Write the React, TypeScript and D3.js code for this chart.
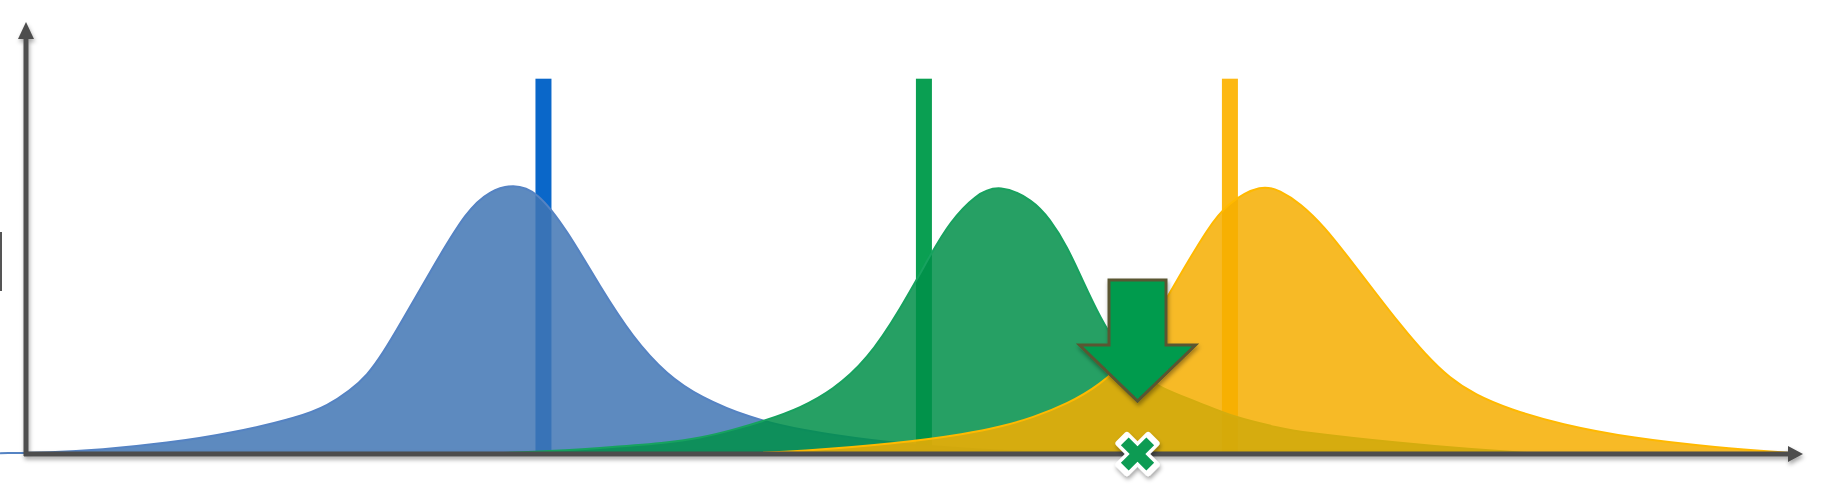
import * as d3 from 'd3';
import { useEffect, useRef } from 'react';

const WIDTH = 1827;
const HEIGHT = 503;

// curve samples: [x, relative height]
const blueCurve: [number, number][] = [
    [-1.46, 0.003], [1.35, 0.005], [4.16, 0.015], [7.93, 0.04], [11.65, 0.078],
    [15.42, 0.137], [17.0, 0.18], [18.23, 0.235], [19.19, 0.29], [20.1, 0.375],
    [21.05, 0.48], [22.9, 0.693], [24.82, 0.904], [26.11, 0.975], [27.41, 1.0],
    [28.76, 0.975], [30.44, 0.83], [32.3, 0.62], [34.16, 0.43], [36.07, 0.293],
    [37.93, 0.211], [40.74, 0.133], [43.56, 0.089], [47.5, 0.05], [52.0, 0.022],
    [57.06, 0.004],
];

const greenCurve: [number, number][] = [
    [25.15, 0.0], [28.53, 0.007], [32.3, 0.022], [36.07, 0.041], [37.93, 0.059],
    [39.79, 0.089], [41.7, 0.126], [43.56, 0.17], [45.41, 0.237], [47.33, 0.348],
    [49.18, 0.533], [51.04, 0.755], [51.97, 0.856], [53.4, 0.96], [54.81, 1.0],
    [56.67, 0.94], [57.62, 0.87], [58.58, 0.77], [59.48, 0.64], [60.44, 0.505],
    [61.56, 0.385], [62.69, 0.3], [63.81, 0.244], [66.07, 0.189], [67.92, 0.137],
    [70.57, 0.096], [71.69, 0.081], [77.32, 0.04], [81.26, 0.018], [84.64, 0.003],
];

const yellowCurve: [number, number][] = [
    [39.9, 0.0], [43.56, 0.01], [49.18, 0.04], [52.95, 0.075], [54.81, 0.1],
    [56.67, 0.135], [58.58, 0.185], [60.44, 0.255], [62.13, 0.36], [63.25, 0.47],
    [64.21, 0.58], [65.34, 0.707], [66.46, 0.83], [67.59, 0.93], [69.56, 1.0],
    [70.57, 0.975], [71.69, 0.93], [73.1, 0.84], [74.51, 0.72], [75.91, 0.6],
    [77.32, 0.48], [78.73, 0.37], [80.13, 0.28], [81.54, 0.22], [83.51, 0.165],
    [86.33, 0.11], [90.43, 0.058], [95.16, 0.024], [99.27, 0.004],
];

const series = [
    { name: 'blue', points: blueCurve, marker: 29.12, fill: 'rgb(65,117,180)', edge: '#5583c3', line: '#0a67c9' },
    { name: 'green', points: greenCurve, marker: 50.53, fill: 'rgb(0,143,73)', edge: '#17a25f', line: '#0a9f52' },
    { name: 'yellow', points: yellowCurve, marker: 67.75, fill: 'rgb(246,174,0)', edge: '#ffb900', line: '#fdb813' },
];

const MARKER_TOP = 1.39;
const Y_AXIS_TOP = 1.6;
const CROSSOVER_X = 62.55;
const ARROW_TIP = 0.196;

const AXIS_COLOR = '#4d4d4d';

export default function App() {
    const ref = useRef<any>();

    useEffect(() => {
        const svg = d3.select<any, any>(ref.current);
        svg.selectAll('*').remove();

        const xScale = d3.scaleLinear().domain([0, 100]).range([26, 1803]);
        const yScale = d3.scaleLinear().domain([0, 1]).range([454, 184]);

        const defs = svg.append('defs');
        defs.append('filter').attr('id', 'shadow')
            .attr('x', '-20%').attr('y', '-20%').attr('width', '140%').attr('height', '160%')
            .append('feDropShadow')
            .attr('dx', 1).attr('dy', 3).attr('stdDeviation', 2)
            .attr('flood-color', '#000').attr('flood-opacity', 0.35);

        // the little bar on the left border
        svg.append('rect')
            .attr('x', 0).attr('y', 232).attr('width', 2).attr('height', 59)
            .attr('fill', '#555');

        // vertical marker lines, under the curves
        svg.append('g').attr('class', 'markers')
            .selectAll('rect').data(series).join('rect')
            .attr('x', (d) => xScale(d.marker) - 8)
            .attr('y', yScale(MARKER_TOP))
            .attr('width', 16)
            .attr('height', yScale(0) - yScale(MARKER_TOP))
            .attr('fill', (d) => d.line);

        const area = d3.area<[number, number]>()
            .x((d) => xScale(d[0]))
            .y0(yScale(0))
            .y1((d) => yScale(d[1]))
            .curve(d3.curveBasis);
        const edge = d3.line<[number, number]>()
            .x((d) => xScale(d[0]))
            .y((d) => yScale(d[1]))
            .curve(d3.curveBasis);

        const curves = svg.append('g').attr('class', 'curves');
        series.forEach((s) => {
            curves.append('path')
                .attr('d', area(s.points))
                .attr('fill', s.fill)
                .attr('fill-opacity', 0.85);
            curves.append('path')
                .attr('d', edge(s.points))
                .attr('fill', 'none')
                .attr('stroke', s.edge)
                .attr('stroke-width', 2);
        });

        // axes with arrow heads
        const axes = svg.append('g').attr('class', 'axes').attr('filter', 'url(#shadow)');
        const x0 = xScale(0);
        const yBase = yScale(0);
        const yTop = yScale(Y_AXIS_TOP);
        axes.append('line')
            .attr('x1', x0).attr('x2', x0)
            .attr('y1', yBase + 2).attr('y2', yTop + 14)
            .attr('stroke', AXIS_COLOR).attr('stroke-width', 5);
        axes.append('path')
            .attr('d', `M${x0},${yTop} L${x0 + 8},${yTop + 17} L${x0 - 8},${yTop + 17} Z`)
            .attr('fill', AXIS_COLOR);
        const xEnd = xScale(100);
        axes.append('line')
            .attr('x1', x0 - 2).attr('x2', xEnd - 12)
            .attr('y1', yBase).attr('y2', yBase)
            .attr('stroke', AXIS_COLOR).attr('stroke-width', 5);
        axes.append('path')
            .attr('d', `M${xEnd},${yBase} L${xEnd - 15},${yBase - 8} L${xEnd - 15},${yBase + 8} Z`)
            .attr('fill', AXIS_COLOR);

        // big arrow pointing at the crossover
        const ax = xScale(CROSSOVER_X);
        const ay = yScale(ARROW_TIP);
        const arrowPath = [
            [ax - 28.5, ay - 121], [ax + 28.5, ay - 121], [ax + 28.5, ay - 56],
            [ax + 58, ay - 56], [ax, ay], [ax - 58, ay - 56], [ax - 28.5, ay - 56],
        ];
        svg.append('path')
            .attr('d', 'M' + arrowPath.map((p) => p.join(',')).join('L') + 'Z')
            .attr('fill', '#009b4e')
            .attr('stroke', '#5a5631')
            .attr('stroke-width', 3)
            .attr('stroke-linejoin', 'miter')
            .attr('filter', 'url(#shadow)');

        // cross mark on the axis
        const cross = svg.append('g')
            .attr('transform', `translate(${ax}, ${yBase})`)
            .attr('filter', 'url(#shadow)');
        [45, -45].forEach((a) => {
            cross.append('rect')
                .attr('x', -24).attr('y', -9).attr('width', 48).attr('height', 18)
                .attr('rx', 3)
                .attr('fill', '#fff')
                .attr('transform', `rotate(${a})`);
        });
        [45, -45].forEach((a) => {
            cross.append('rect')
                .attr('x', -18).attr('y', -5.5).attr('width', 36).attr('height', 11)
                .attr('fill', '#0a9b52')
                .attr('transform', `rotate(${a})`);
        });
    }, []);

    return (
        <svg
            ref={ref}
            width={WIDTH}
            height={HEIGHT}
            style={{ position: 'absolute', left: 0, top: 0, background: '#fff' }}
        ></svg>
    );
}
